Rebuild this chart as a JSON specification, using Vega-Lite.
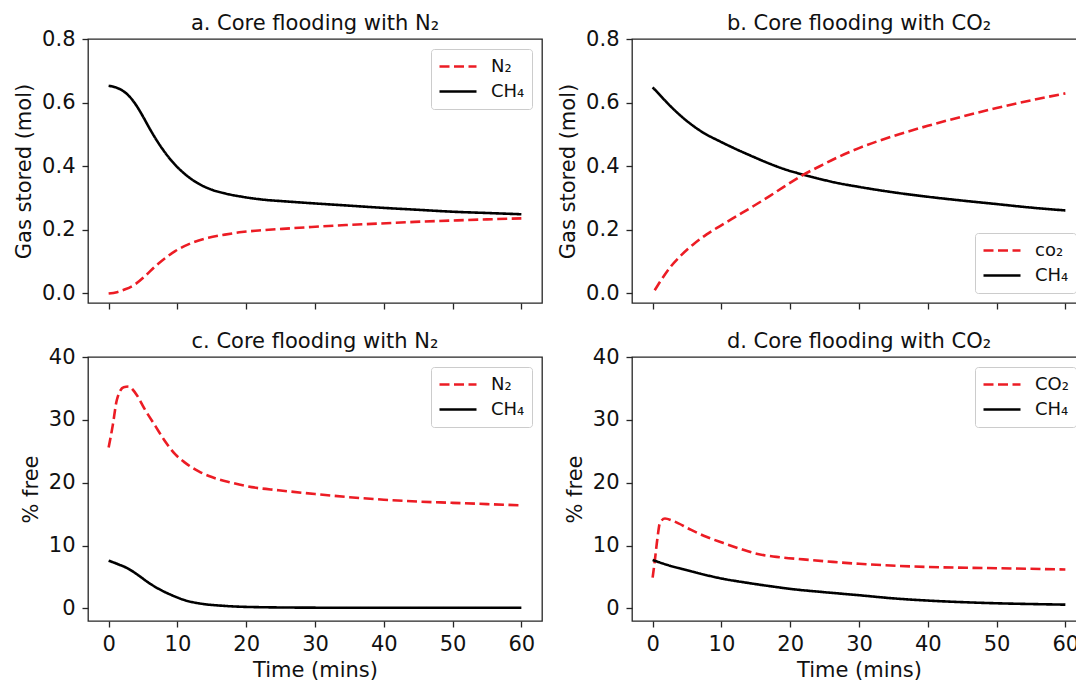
{
  "$schema": "https://vega.github.io/schema/vega-lite/v6.json",
  "padding": {"left": 12, "top": 12, "right": 0, "bottom": 0},
  "background": "white",
  "bounds": "flush",
  "columns": 2,
  "spacing": {"row": 54, "column": 90},
  "datasets": {
    "a": [
      {"t": 0, "v": 0.653, "s": "CH₄"}, {"t": 1, "v": 0.648, "s": "CH₄"}, {"t": 2, "v": 0.638, "s": "CH₄"},
      {"t": 3, "v": 0.62, "s": "CH₄"}, {"t": 4, "v": 0.592, "s": "CH₄"}, {"t": 5, "v": 0.556, "s": "CH₄"},
      {"t": 6, "v": 0.517, "s": "CH₄"}, {"t": 7, "v": 0.481, "s": "CH₄"}, {"t": 8, "v": 0.449, "s": "CH₄"},
      {"t": 9, "v": 0.421, "s": "CH₄"}, {"t": 10, "v": 0.397, "s": "CH₄"}, {"t": 11, "v": 0.377, "s": "CH₄"},
      {"t": 12, "v": 0.36, "s": "CH₄"}, {"t": 13, "v": 0.346, "s": "CH₄"}, {"t": 14, "v": 0.335, "s": "CH₄"},
      {"t": 15, "v": 0.326, "s": "CH₄"}, {"t": 17, "v": 0.314, "s": "CH₄"}, {"t": 19.4, "v": 0.304, "s": "CH₄"},
      {"t": 22, "v": 0.296, "s": "CH₄"}, {"t": 26, "v": 0.289, "s": "CH₄"}, {"t": 30, "v": 0.283, "s": "CH₄"},
      {"t": 35, "v": 0.276, "s": "CH₄"}, {"t": 40, "v": 0.269, "s": "CH₄"}, {"t": 45, "v": 0.263, "s": "CH₄"},
      {"t": 50, "v": 0.257, "s": "CH₄"}, {"t": 55, "v": 0.253, "s": "CH₄"}, {"t": 60, "v": 0.249, "s": "CH₄"},
      {"t": 0, "v": 0.0, "s": "N₂"}, {"t": 1.2, "v": 0.004, "s": "N₂"}, {"t": 2.41, "v": 0.013, "s": "N₂"},
      {"t": 3.87, "v": 0.029, "s": "N₂"}, {"t": 5.32, "v": 0.055, "s": "N₂"}, {"t": 6.77, "v": 0.085, "s": "N₂"},
      {"t": 8.22, "v": 0.111, "s": "N₂"}, {"t": 9.67, "v": 0.133, "s": "N₂"}, {"t": 12.09, "v": 0.159, "s": "N₂"},
      {"t": 14.5, "v": 0.175, "s": "N₂"}, {"t": 16.9, "v": 0.185, "s": "N₂"}, {"t": 19.35, "v": 0.193, "s": "N₂"},
      {"t": 21.8, "v": 0.198, "s": "N₂"}, {"t": 26.6, "v": 0.205, "s": "N₂"}, {"t": 29.5, "v": 0.209, "s": "N₂"},
      {"t": 34.5, "v": 0.215, "s": "N₂"}, {"t": 39.5, "v": 0.22, "s": "N₂"}, {"t": 44.5, "v": 0.225, "s": "N₂"},
      {"t": 49.5, "v": 0.229, "s": "N₂"}, {"t": 55, "v": 0.233, "s": "N₂"}, {"t": 60, "v": 0.236, "s": "N₂"}
    ],
    "b": [
      {"t": 0, "v": 0.648, "s": "CH₄"}, {"t": 0.8, "v": 0.63, "s": "CH₄"}, {"t": 2, "v": 0.602, "s": "CH₄"},
      {"t": 3.5, "v": 0.57, "s": "CH₄"}, {"t": 5.4, "v": 0.535, "s": "CH₄"}, {"t": 7.4, "v": 0.505, "s": "CH₄"},
      {"t": 9.8, "v": 0.478, "s": "CH₄"}, {"t": 12.2, "v": 0.453, "s": "CH₄"}, {"t": 14.6, "v": 0.43, "s": "CH₄"},
      {"t": 17, "v": 0.408, "s": "CH₄"}, {"t": 19.4, "v": 0.389, "s": "CH₄"}, {"t": 21.8, "v": 0.374, "s": "CH₄"},
      {"t": 24.3, "v": 0.36, "s": "CH₄"}, {"t": 26.7, "v": 0.348, "s": "CH₄"}, {"t": 30, "v": 0.335, "s": "CH₄"},
      {"t": 35, "v": 0.318, "s": "CH₄"}, {"t": 40, "v": 0.304, "s": "CH₄"}, {"t": 45, "v": 0.292, "s": "CH₄"},
      {"t": 50, "v": 0.281, "s": "CH₄"}, {"t": 55, "v": 0.27, "s": "CH₄"}, {"t": 60, "v": 0.261, "s": "CH₄"},
      {"t": 0.3, "v": 0.01, "s": "co₂"}, {"t": 1.3, "v": 0.044, "s": "co₂"}, {"t": 2.5, "v": 0.081, "s": "co₂"},
      {"t": 4, "v": 0.117, "s": "co₂"}, {"t": 5.9, "v": 0.154, "s": "co₂"}, {"t": 7.8, "v": 0.185, "s": "co₂"},
      {"t": 9.8, "v": 0.212, "s": "co₂"}, {"t": 12.2, "v": 0.243, "s": "co₂"}, {"t": 14.6, "v": 0.274, "s": "co₂"},
      {"t": 17, "v": 0.306, "s": "co₂"}, {"t": 19.4, "v": 0.34, "s": "co₂"}, {"t": 21.8, "v": 0.372, "s": "co₂"},
      {"t": 24.3, "v": 0.4, "s": "co₂"}, {"t": 26.7, "v": 0.426, "s": "co₂"}, {"t": 30, "v": 0.457, "s": "co₂"},
      {"t": 35, "v": 0.495, "s": "co₂"}, {"t": 40, "v": 0.527, "s": "co₂"}, {"t": 45, "v": 0.556, "s": "co₂"},
      {"t": 50, "v": 0.583, "s": "co₂"}, {"t": 55, "v": 0.607, "s": "co₂"}, {"t": 60, "v": 0.629, "s": "co₂"}
    ],
    "c": [
      {"t": 0, "v": 25.6, "s": "N₂"}, {"t": 0.58, "v": 29.0, "s": "N₂"}, {"t": 1.2, "v": 33.2, "s": "N₂"},
      {"t": 2.18, "v": 35.2, "s": "N₂"}, {"t": 2.9, "v": 35.3, "s": "N₂"}, {"t": 3.87, "v": 34.3, "s": "N₂"},
      {"t": 5.3, "v": 31.6, "s": "N₂"}, {"t": 6.8, "v": 29.0, "s": "N₂"}, {"t": 8.2, "v": 26.6, "s": "N₂"},
      {"t": 9.7, "v": 24.5, "s": "N₂"}, {"t": 11.1, "v": 23.2, "s": "N₂"}, {"t": 13.1, "v": 21.8, "s": "N₂"},
      {"t": 15.0, "v": 20.9, "s": "N₂"}, {"t": 17.9, "v": 20.0, "s": "N₂"}, {"t": 20.8, "v": 19.3, "s": "N₂"},
      {"t": 24.7, "v": 18.8, "s": "N₂"}, {"t": 30, "v": 18.2, "s": "N₂"}, {"t": 35, "v": 17.7, "s": "N₂"},
      {"t": 40, "v": 17.3, "s": "N₂"}, {"t": 45, "v": 17.0, "s": "N₂"}, {"t": 50, "v": 16.8, "s": "N₂"},
      {"t": 55, "v": 16.6, "s": "N₂"}, {"t": 60, "v": 16.4, "s": "N₂"},
      {"t": 0, "v": 7.6, "s": "CH₄"}, {"t": 1.45, "v": 7.0, "s": "CH₄"}, {"t": 2.9, "v": 6.3, "s": "CH₄"},
      {"t": 4.35, "v": 5.25, "s": "CH₄"}, {"t": 5.8, "v": 4.1, "s": "CH₄"}, {"t": 7.3, "v": 3.1, "s": "CH₄"},
      {"t": 9.2, "v": 2.1, "s": "CH₄"}, {"t": 11.1, "v": 1.3, "s": "CH₄"}, {"t": 13.5, "v": 0.75, "s": "CH₄"},
      {"t": 16.9, "v": 0.4, "s": "CH₄"}, {"t": 21.8, "v": 0.2, "s": "CH₄"}, {"t": 30, "v": 0.12, "s": "CH₄"},
      {"t": 40, "v": 0.1, "s": "CH₄"}, {"t": 50, "v": 0.1, "s": "CH₄"}, {"t": 60, "v": 0.1, "s": "CH₄"}
    ],
    "d": [
      {"t": 0, "v": 4.9, "s": "CO₂"}, {"t": 0.34, "v": 7.8, "s": "CO₂"}, {"t": 0.68, "v": 11.0, "s": "CO₂"},
      {"t": 1.06, "v": 13.6, "s": "CO₂"}, {"t": 1.79, "v": 14.3, "s": "CO₂"}, {"t": 3.0, "v": 13.9, "s": "CO₂"},
      {"t": 5.4, "v": 12.6, "s": "CO₂"}, {"t": 7.8, "v": 11.4, "s": "CO₂"}, {"t": 10.3, "v": 10.4, "s": "CO₂"},
      {"t": 12.7, "v": 9.5, "s": "CO₂"}, {"t": 15.1, "v": 8.7, "s": "CO₂"}, {"t": 18.0, "v": 8.2, "s": "CO₂"},
      {"t": 21.9, "v": 7.8, "s": "CO₂"}, {"t": 26.2, "v": 7.4, "s": "CO₂"}, {"t": 30, "v": 7.1, "s": "CO₂"},
      {"t": 40, "v": 6.6, "s": "CO₂"}, {"t": 50, "v": 6.4, "s": "CO₂"}, {"t": 60, "v": 6.2, "s": "CO₂"},
      {"t": 0, "v": 7.7, "s": "CH₄"}, {"t": 2.5, "v": 6.8, "s": "CH₄"}, {"t": 4.9, "v": 6.1, "s": "CH₄"},
      {"t": 7.4, "v": 5.4, "s": "CH₄"}, {"t": 10.3, "v": 4.7, "s": "CH₄"}, {"t": 13.6, "v": 4.1, "s": "CH₄"},
      {"t": 17.0, "v": 3.55, "s": "CH₄"}, {"t": 20.9, "v": 3.0, "s": "CH₄"}, {"t": 24.8, "v": 2.6, "s": "CH₄"},
      {"t": 30, "v": 2.1, "s": "CH₄"}, {"t": 35, "v": 1.6, "s": "CH₄"}, {"t": 40, "v": 1.25, "s": "CH₄"},
      {"t": 45, "v": 1.0, "s": "CH₄"}, {"t": 50, "v": 0.82, "s": "CH₄"}, {"t": 55, "v": 0.7, "s": "CH₄"},
      {"t": 60, "v": 0.6, "s": "CH₄"}
    ]
  },
  "concat": [
    {
      "title": "a. Core flooding with N₂",
      "width": 454, "height": 264,
      "data": {"name": "a"},
      "mark": {"type": "line", "strokeWidth": 2.6, "interpolate": "monotone"},
      "encoding": {
        "x": {"field": "t", "type": "quantitative", "scale": {"domain": [-3, 63], "nice": false, "zero": false},
              "axis": {"values": [0, 10, 20, 30, 40, 50, 60], "labels": false, "title": null}},
        "y": {"field": "v", "type": "quantitative", "scale": {"domain": [-0.03, 0.8], "nice": false, "zero": false},
              "axis": {"values": [0, 0.2, 0.4, 0.6, 0.8], "format": ".1f", "title": "Gas stored (mol)"}},
        "color": {"field": "s", "type": "nominal", "scale": {"domain": ["N₂", "CH₄"], "range": ["#ec1c24", "#000000"]},
                  "legend": {"orient": "top-right", "title": null}},
        "strokeDash": {"field": "s", "type": "nominal", "scale": {"domain": ["N₂", "CH₄"], "range": [[10, 4.5], [1, 0]]},
                  "legend": {"orient": "top-right", "title": null}}
      }
    },
    {
      "title": "b. Core flooding with CO₂",
      "width": 454, "height": 264,
      "data": {"name": "b"},
      "mark": {"type": "line", "strokeWidth": 2.6, "interpolate": "monotone"},
      "encoding": {
        "x": {"field": "t", "type": "quantitative", "scale": {"domain": [-3, 63], "nice": false, "zero": false},
              "axis": {"values": [0, 10, 20, 30, 40, 50, 60], "labels": false, "title": null}},
        "y": {"field": "v", "type": "quantitative", "scale": {"domain": [-0.03, 0.8], "nice": false, "zero": false},
              "axis": {"values": [0, 0.2, 0.4, 0.6, 0.8], "format": ".1f", "title": "Gas stored (mol)"}},
        "color": {"field": "s", "type": "nominal", "scale": {"domain": ["co₂", "CH₄"], "range": ["#ec1c24", "#000000"]},
                  "legend": {"orient": "bottom-right", "title": null}},
        "strokeDash": {"field": "s", "type": "nominal", "scale": {"domain": ["co₂", "CH₄"], "range": [[10, 4.5], [1, 0]]},
                  "legend": {"orient": "bottom-right", "title": null}}
      }
    },
    {
      "title": "c. Core flooding with N₂",
      "width": 454, "height": 264,
      "data": {"name": "c"},
      "mark": {"type": "line", "strokeWidth": 2.6, "interpolate": "monotone"},
      "encoding": {
        "x": {"field": "t", "type": "quantitative", "scale": {"domain": [-3, 63], "nice": false, "zero": false},
              "axis": {"values": [0, 10, 20, 30, 40, 50, 60], "title": "Time (mins)"}},
        "y": {"field": "v", "type": "quantitative", "scale": {"domain": [-2, 40], "nice": false, "zero": false},
              "axis": {"values": [0, 10, 20, 30, 40], "title": "% free"}},
        "color": {"field": "s", "type": "nominal", "scale": {"domain": ["N₂", "CH₄"], "range": ["#ec1c24", "#000000"]},
                  "legend": {"orient": "top-right", "title": null}},
        "strokeDash": {"field": "s", "type": "nominal", "scale": {"domain": ["N₂", "CH₄"], "range": [[10, 4.5], [1, 0]]},
                  "legend": {"orient": "top-right", "title": null}}
      }
    },
    {
      "title": "d. Core flooding with CO₂",
      "width": 454, "height": 264,
      "data": {"name": "d"},
      "mark": {"type": "line", "strokeWidth": 2.6, "interpolate": "monotone"},
      "encoding": {
        "x": {"field": "t", "type": "quantitative", "scale": {"domain": [-3, 63], "nice": false, "zero": false},
              "axis": {"values": [0, 10, 20, 30, 40, 50, 60], "title": "Time (mins)"}},
        "y": {"field": "v", "type": "quantitative", "scale": {"domain": [-2, 40], "nice": false, "zero": false},
              "axis": {"values": [0, 10, 20, 30, 40], "title": "% free"}},
        "color": {"field": "s", "type": "nominal", "scale": {"domain": ["CO₂", "CH₄"], "range": ["#ec1c24", "#000000"]},
                  "legend": {"orient": "top-right", "title": null}},
        "strokeDash": {"field": "s", "type": "nominal", "scale": {"domain": ["CO₂", "CH₄"], "range": [[10, 4.5], [1, 0]]},
                  "legend": {"orient": "top-right", "title": null}}
      }
    }
  ],
  "resolve": {
    "scale": {"color": "independent", "strokeDash": "independent"},
    "legend": {"color": "independent", "strokeDash": "independent"}
  },
  "config": {
    "font": "DejaVu Sans",
    "view": {"stroke": "#262626", "strokeWidth": 1.3},
    "axis": {
      "labelFont": "DejaVu Sans", "labelFontSize": 21, "labelColor": "#111111",
      "titleFont": "DejaVu Sans", "titleFontSize": 21, "titleFontWeight": "normal", "titleColor": "#111111",
      "tickColor": "#262626", "tickSize": 6, "tickWidth": 1.3, "domain": false, "grid": false,
      "labelPadding": 6, "labelFlush": false, "labelOverlap": false
    },
    "axisY": {"titlePadding": 7, "labelPadding": 7},
    "axisX": {"titlePadding": 5},
    "title": {"font": "DejaVu Sans", "fontSize": 21, "fontWeight": "normal", "color": "#111111", "anchor": "middle", "offset": -6},
    "legend": {
      "labelFont": "DejaVu Sans", "labelFontSize": 18, "labelColor": "#111111",
      "symbolType": "stroke", "symbolSize": 1369, "symbolStrokeWidth": 2.6,
      "fillColor": "white", "strokeColor": "#cccccc", "cornerRadius": 3,
      "padding": 7, "offset": 10, "rowPadding": 4, "clipHeight": 21, "labelOffset": 13
    }
  }
}
